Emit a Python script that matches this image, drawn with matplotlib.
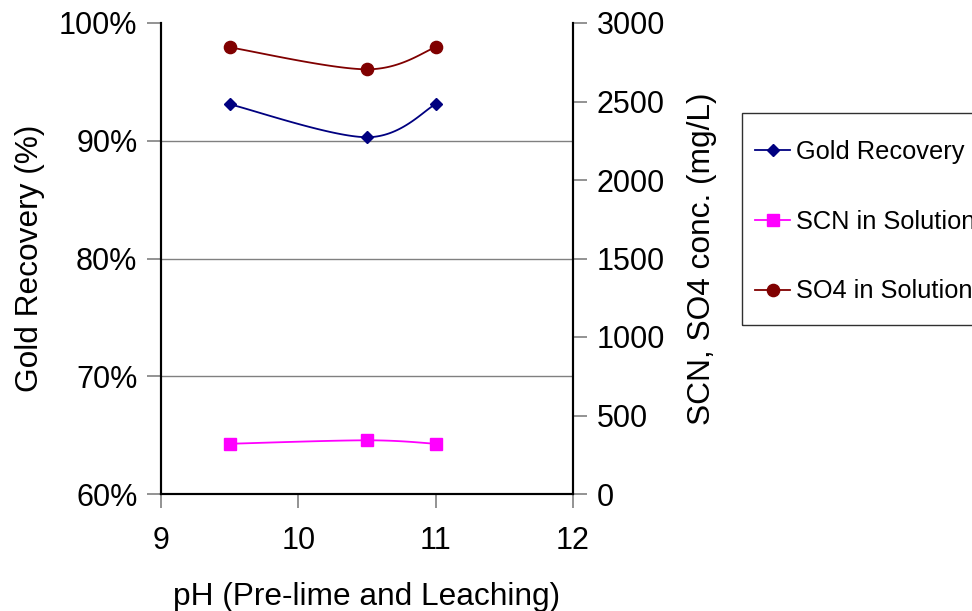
import numpy as np
import matplotlib
matplotlib.use("Agg")
import matplotlib.pyplot as plt
from matplotlib.ticker import FuncFormatter
from matplotlib.patches import Rectangle

plt.rcParams['font.family'] = ['Liberation Sans', 'DejaVu Sans']

# pH levels tested
ph = [9.5, 10.5, 11.0]
# Gold recovery (%)
gold_recovery = [93.1, 90.3, 93.1]
# Thiocyanate and sulphate in solution (mg/L)
scn_conc = [320, 342, 320]
so4_conc = [2845, 2705, 2845]

X_LIM = (9, 12)
Y1_LIM = (60, 100)
Y2_LIM = (0, 3000)

W, H = 972, 611


def smooth(xs, ys, xlim, ylim, n=40):
    """Catmull-Rom style smoothing computed in normalised axis space."""
    xs = np.asarray(xs, float)
    ys = np.asarray(ys, float)
    sx = (xs - xlim[0]) / (xlim[1] - xlim[0]) * 412
    sy = (ys - ylim[0]) / (ylim[1] - ylim[0]) * 471
    pts = np.column_stack([sx, sy])
    ext = np.vstack([pts[0], pts, pts[-1]])
    out = []
    for i in range(1, len(ext) - 2):
        p0, p1, p2, p3 = ext[i - 1], ext[i], ext[i + 1], ext[i + 2]
        c1 = p1 + (p2 - p0) / 6.0
        c2 = p2 - (p3 - p1) / 6.0
        t = np.linspace(0, 1, n)[:, None]
        seg = ((1 - t) ** 3) * p1 + 3 * ((1 - t) ** 2) * t * c1 \
            + 3 * (1 - t) * t ** 2 * c2 + t ** 3 * p2
        out.append(seg if i == 1 else seg[1:])
    out = np.vstack(out)
    rx = out[:, 0] / 412 * (xlim[1] - xlim[0]) + xlim[0]
    ry = out[:, 1] / 471 * (ylim[1] - ylim[0]) + ylim[0]
    return rx, ry


fig = plt.figure(figsize=(W / 100, H / 100), dpi=100)
ax = fig.add_axes([161 / W, 1 - 494 / H, 412 / W, 471 / H])
ax2 = ax.twinx()

gold_c = '#000080'
scn_c = '#FF00FF'
so4_c = '#800000'
LW = 1.3

# Gold recovery on the left axis
gx, gy = smooth(ph, gold_recovery, X_LIM, Y1_LIM)
ax.plot(gx, gy, color=gold_c, lw=LW, zorder=3)
ax.plot(ph, gold_recovery, ls='none', marker='D', ms=6.2, color=gold_c, zorder=4)
h_gold, = ax.plot([], [], color=gold_c, lw=LW, marker='D', ms=6.2)

# Concentrations on the right axis
sx_, sy_ = smooth(ph, scn_conc, X_LIM, Y2_LIM)
ax2.plot(sx_, sy_, color=scn_c, lw=LW, zorder=3)
ax2.plot(ph, scn_conc, ls='none', marker='s', ms=8.3, color=scn_c, zorder=4)
h_scn, = ax2.plot([], [], color=scn_c, lw=LW, marker='s', ms=8.3)

ox, oy = smooth(ph, so4_conc, X_LIM, Y2_LIM)
ax2.plot(ox, oy, color=so4_c, lw=LW, zorder=3)
ax2.plot(ph, so4_conc, ls='none', marker='o', ms=8.8, color=so4_c, zorder=4)
h_so4, = ax2.plot([], [], color=so4_c, lw=LW, marker='o', ms=8.8)

ax.set_xlim(*X_LIM)
ax.set_ylim(*Y1_LIM)
ax2.set_ylim(*Y2_LIM)
ax.set_xticks([9, 10, 11, 12])
ax.set_yticks([60, 70, 80, 90, 100])
ax2.set_yticks([0, 500, 1000, 1500, 2000, 2500, 3000])
ax.yaxis.set_major_formatter(FuncFormatter(lambda v, p: f"{v:.0f}%"))

for a in (ax, ax2):
    a.spines['top'].set_visible(False)
    for s in a.spines.values():
        s.set_linewidth(1.5)
        s.set_color('black')
    a.tick_params(direction='out', length=10, width=1.2, color='#808080',
                  labelsize=22, pad=7)
ax.tick_params(axis='x', pad=13)

for v in (70, 80, 90):
    ax.axhline(v, color='#808080', lw=1.0, zorder=1)

ax.set_xlabel('pH (Pre-lime and Leaching)', fontsize=22.8, labelpad=19)
ax.set_ylabel('Gold Recovery (%)', fontsize=22.8, labelpad=10)
ax2.set_ylabel('SCN, SO4 conc. (mg/L)', fontsize=22.8, labelpad=16)

# Legend box
fig.patches.append(Rectangle((742 / W, 1 - 325 / H), 260 / W, 212 / H,
                             transform=fig.transFigure, fill=False,
                             edgecolor='#303030', lw=1.0, zorder=5))

leg = fig.legend([h_gold, h_scn, h_so4],
                 ['Gold Recovery', 'SCN in Solution', 'SO4 in Solution'],
                 loc='upper left', bbox_to_anchor=(755 / W, 1 - 140 / H),
                 bbox_transform=fig.transFigure, borderaxespad=0,
                 borderpad=0, fontsize=18.3, frameon=False,
                 labelspacing=1.8, handlelength=1.38, handletextpad=0.24)

fig.savefig('out.png', dpi=100)
